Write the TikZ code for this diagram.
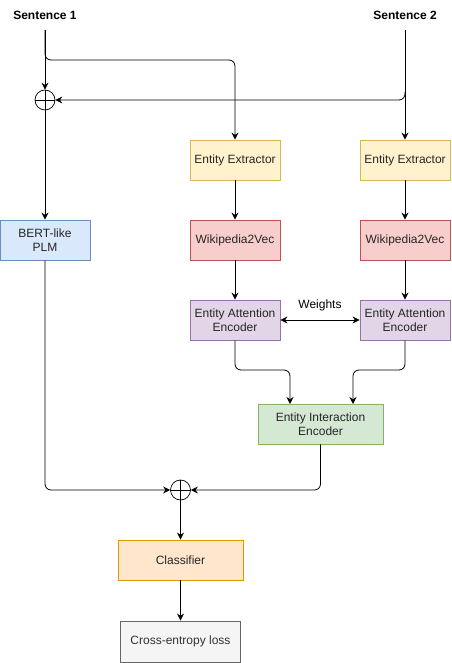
\documentclass[tikz,border=0pt]{standalone}
\usepackage{fontspec}
\setmainfont{Liberation Sans}
\usetikzlibrary{arrows.meta,calc}
\definecolor{eefill}{HTML}{FFF2CC}\definecolor{eedraw}{HTML}{D6B656}
\definecolor{bfill}{HTML}{DAE8FC}\definecolor{bdraw}{HTML}{6C8EBF}
\definecolor{wfill}{HTML}{F8CECC}\definecolor{wdraw}{HTML}{B85450}
\definecolor{afill}{HTML}{E1D5E7}\definecolor{adraw}{HTML}{9673A6}
\definecolor{ifill}{HTML}{D5E8D4}\definecolor{idraw}{HTML}{82B366}
\definecolor{cfill}{HTML}{FFE6CC}\definecolor{cdraw}{HTML}{D79B00}
\definecolor{lfill}{HTML}{F5F5F5}\definecolor{ldraw}{HTML}{666666}
\definecolor{ltext}{HTML}{333333}
\tikzset{
  box/.style={draw, line width=0.8pt, minimum height=40pt, minimum width=90pt, align=center, inner sep=1pt, font=\fontsize{12}{14}\selectfont, text=black!85},
  wide/.style={minimum width=125pt},
  lbl/.style={font=\fontsize{12}{14}\selectfont, inner sep=0pt},
  ttl/.style={font=\bfseries\fontsize{12}{14}\selectfont, inner sep=0pt},
  oplus/.style={circle, draw, line width=0.7pt, minimum size=20pt, inner sep=0pt,
    path picture={\draw[line width=0.7pt] (path picture bounding box.north) -- (path picture bounding box.south)
      (path picture bounding box.west) -- (path picture bounding box.east);}},
  conn/.style={line width=0.8pt, -{Stealth[length=7pt,width=7pt]}, rounded corners=6pt},
  dconn/.style={line width=0.8pt, {Stealth[length=7pt,width=7pt]}-{Stealth[length=7pt,width=7pt]}},
  plain/.style={line width=0.8pt, rounded corners=6pt}
}
\begin{document}
\begin{tikzpicture}[x=1pt,y=-1pt]
\useasboundingbox (0,0) rectangle (451,663);
\node[ttl] (s1) at (45,15) {Sentence 1};
\node[ttl] (s2) at (405,15) {Sentence 2};
\coordinate (s1b) at (45,30);
\coordinate (s2b) at (405,30);
\node[oplus] (p1) at (45,100) {};
\node[box, fill=eefill, draw=eedraw] (ee1) at (235,160) {Entity Extractor};
\node[box, fill=eefill, draw=eedraw] (ee2) at (405,160) {Entity Extractor};
\node[box, fill=bfill, draw=bdraw] (bert) at (45,240) {BERT-like\\PLM};
\node[box, fill=wfill, draw=wdraw] (w1) at (235,240) {Wikipedia2Vec};
\node[box, fill=wfill, draw=wdraw] (w2) at (405,240) {Wikipedia2Vec};
\node[box, fill=afill, draw=adraw] (a1) at (235,320) {Entity Attention\\Encoder};
\node[box, fill=afill, draw=adraw] (a2) at (405,320) {Entity Attention\\Encoder};
\node[box, wide, fill=ifill, draw=idraw] (ie) at (320.5,424) {Entity Interaction\\Encoder};
\node[oplus] (p2) at (180.5,490) {};
\node[box, wide, fill=cfill, draw=cdraw] (cl) at (180.5,560) {Classifier};
\node[box, minimum width=120pt, minimum height=41pt, fill=lfill, draw=ldraw, text=ltext] (ce) at (180.5,641.5) {Cross-entropy loss};
\node[lbl] (wt) at (320,305) {Weights};
% connectors
\draw[conn] (s1b) -- (p1.north);
\draw[conn] (s1b) -- (45,60) -- (235,60) -- (ee1.north);
\draw[conn] (s2b) -- (ee2.north);
\draw[conn] (405,92) -- (405,100) -- (p1.east);
\draw[conn] (p1.south) -- (bert.north);
\draw[conn] (ee1) -- (w1);
\draw[conn] (ee2) -- (w2);
\draw[conn] (w1) -- (a1);
\draw[conn] (w2) -- (a2);
\draw[dconn] (a1.east) -- (a2.west);
\draw[conn] (a1.south) -- (235,370) -- (290,370) -- (290,404);
\draw[conn] (a2.south) -- (405,370) -- (353,370) -- (353,404);
\draw[conn] (bert.south) -- (45,490) -- (p2.west);
\draw[conn] (ie.south) -- (320.5,490) -- (p2.east);
\draw[conn] (p2.south) -- (cl.north);
\draw[conn] (cl.south) -- (ce.north);
\end{tikzpicture}
\end{document}
